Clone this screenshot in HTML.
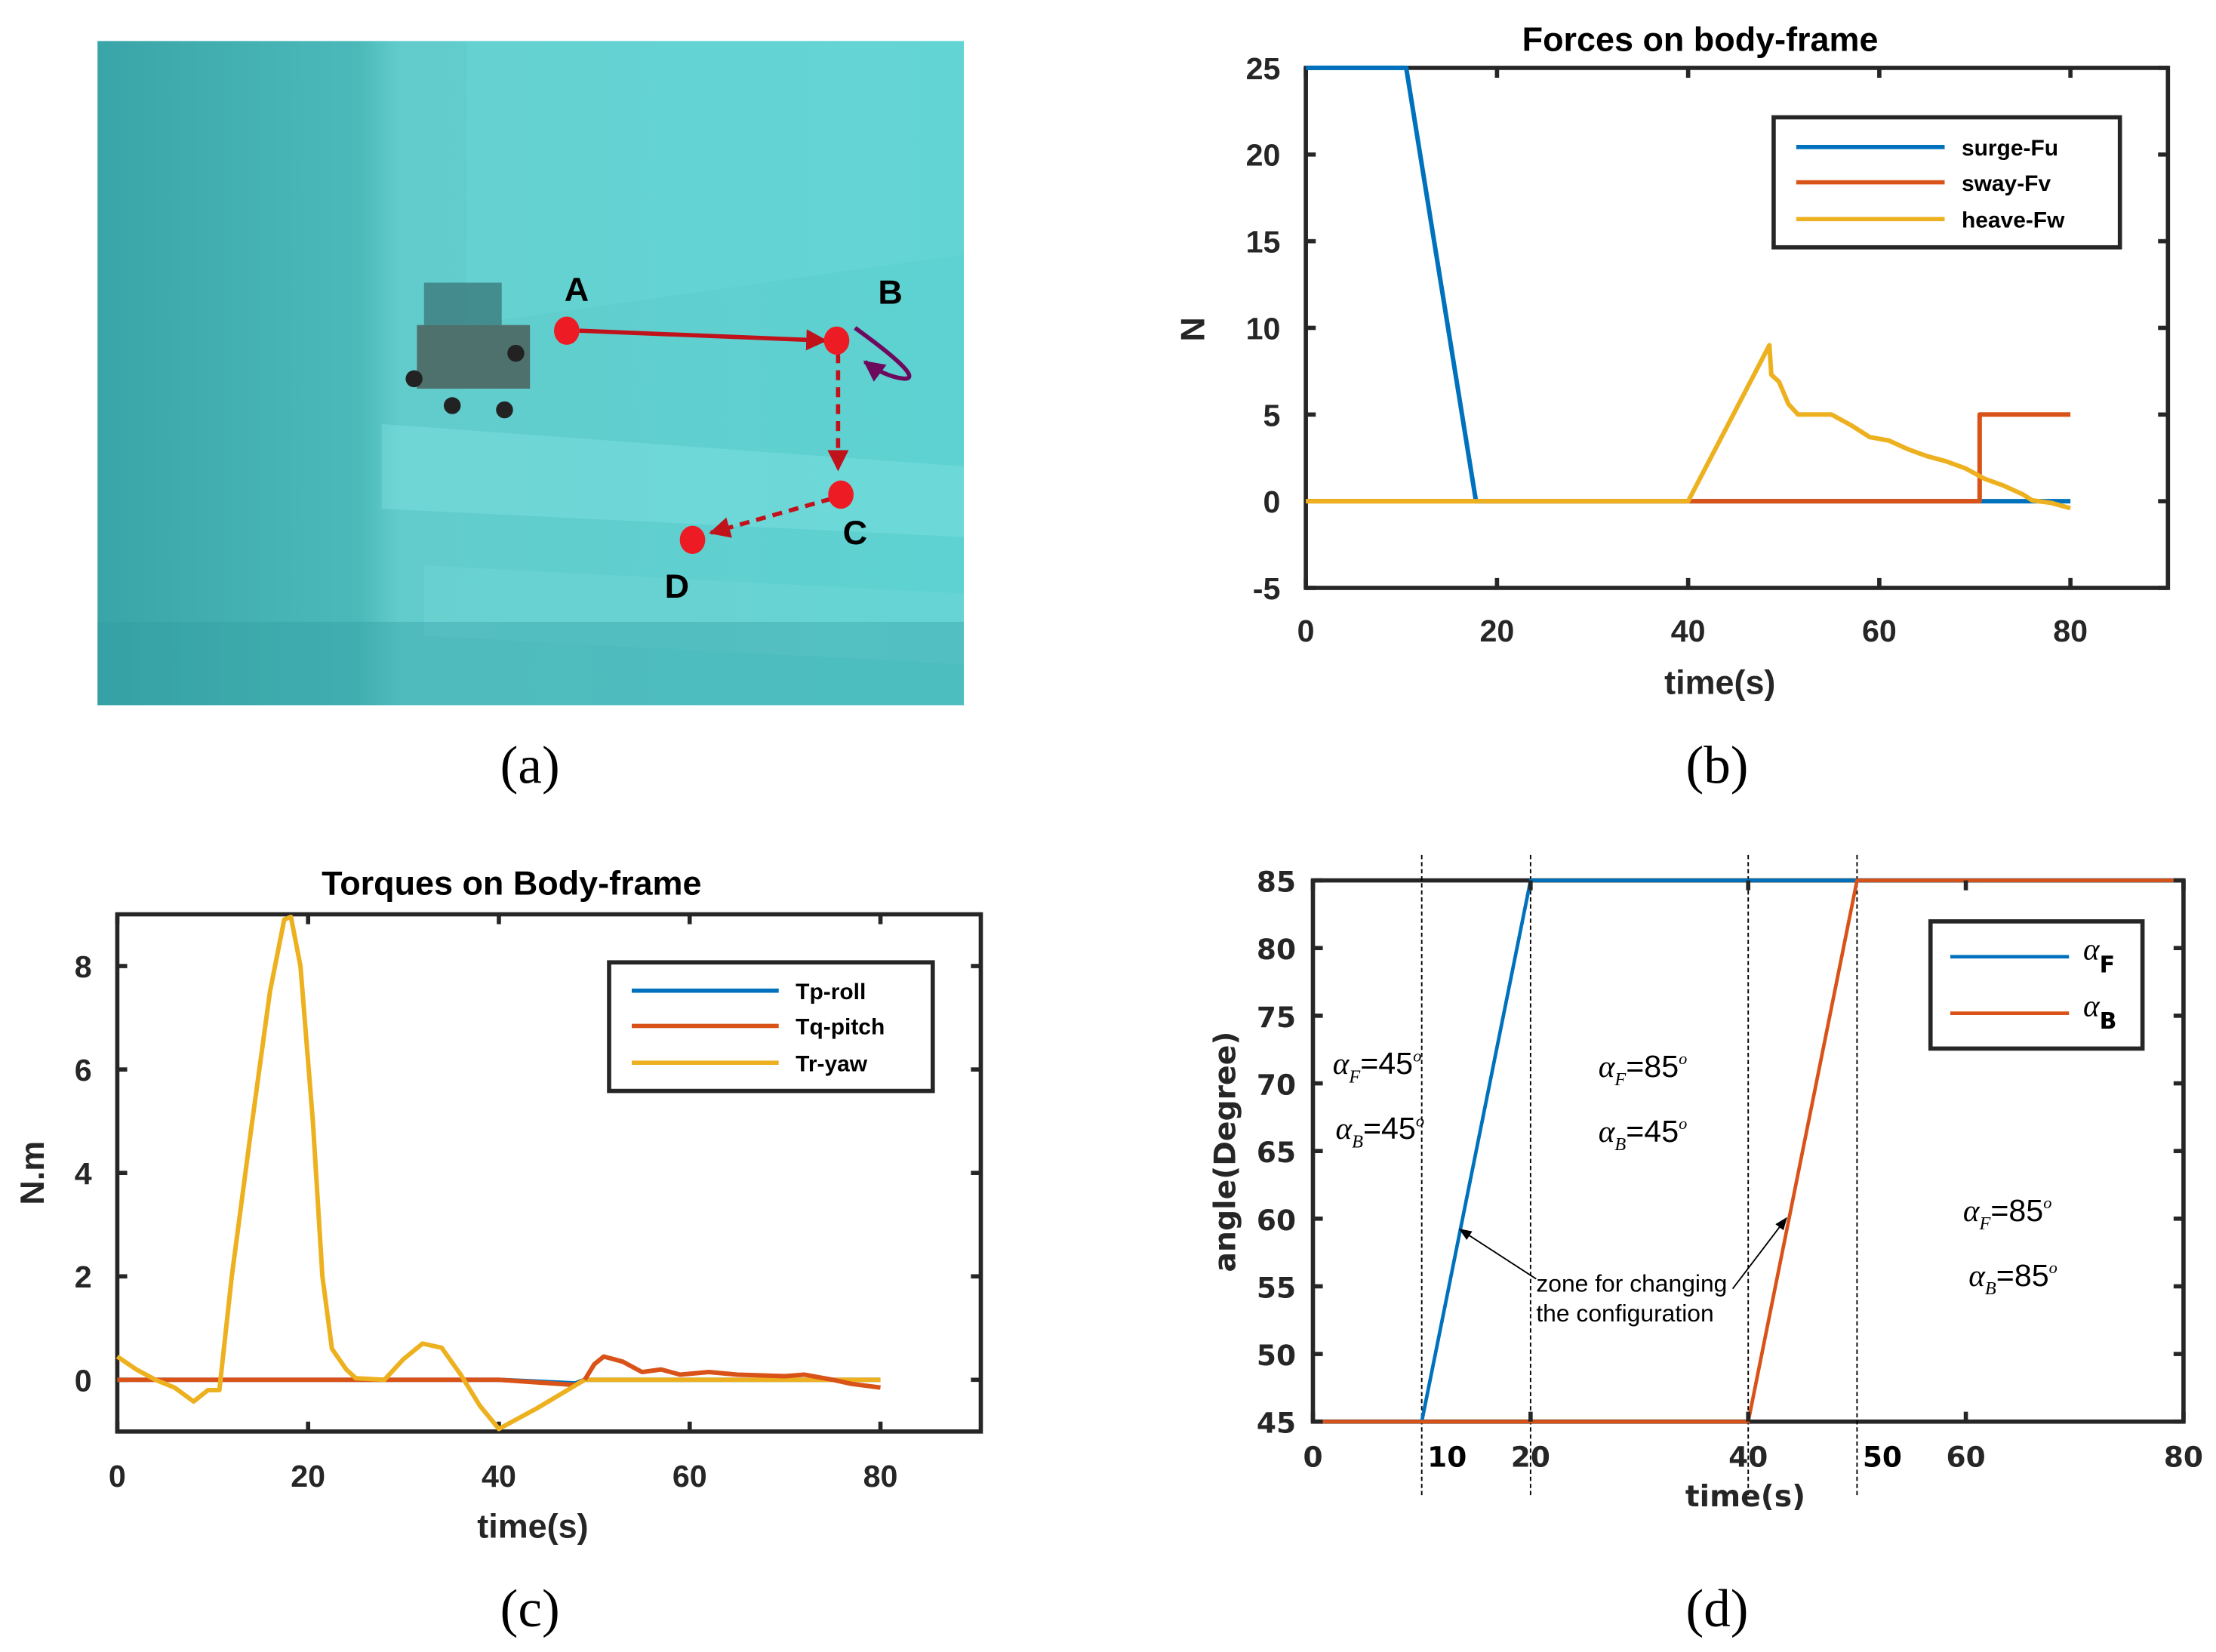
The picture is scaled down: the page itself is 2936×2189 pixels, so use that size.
<!DOCTYPE html>
<html><head><meta charset="utf-8">
<style>
html,body{margin:0;padding:0;background:#fff;}
svg{display:block;}
text{font-family:"Liberation Sans Narrow","Liberation Sans",sans-serif;fill:#262626;}
.tk{font-size:22px;font-weight:bold;}
.ttl{font-size:24px;font-weight:bold;fill:#000;}
.lg{font-size:16px;font-weight:bold;fill:#000;}
.cap{font-family:"Liberation Serif",serif;font-size:38px;fill:#000;}
</style></head>
<body>
<svg id="fig" width="2936" height="2189" viewBox="0 0 1568 1169" xmlns="http://www.w3.org/2000/svg">
<defs>
<linearGradient id="wall" x1="0" y1="0" x2="1" y2="0">
<stop offset="0" stop-color="#3aa5a8"/><stop offset="0.3" stop-color="#4bb9b9"/><stop offset="0.35" stop-color="#62cccc"/><stop offset="1" stop-color="#5ed2d2"/>
</linearGradient>
<marker id="arr" viewBox="0 0 10 10" refX="9" refY="5" markerWidth="5" markerHeight="5" orient="auto"><path d="M0,0L10,5L0,10z" fill="#c0121b"/></marker>
<marker id="arrp" viewBox="0 0 10 10" refX="9" refY="5" markerWidth="5" markerHeight="5" orient="auto"><path d="M0,0L10,5L0,10z" fill="#6e0a5e"/></marker>
<marker id="arrk" viewBox="0 0 10 10" refX="9" refY="5" markerWidth="9" markerHeight="9" orient="auto"><path d="M0,1L10,5L0,9z" fill="#000"/></marker>
</defs>

<g>
<rect x="69" y="29" width="613" height="470" fill="url(#wall)"/>
<path d="M330,29 L682,29 L682,180 L330,230z" fill="#6ad6d6" opacity="0.45"/>
<path d="M270,300 L682,330 L682,380 L270,360z" fill="#8ae4e4" opacity="0.35"/>
<path d="M300,400 L682,420 L682,470 L300,450z" fill="#7adcdc" opacity="0.3"/>
<rect x="69" y="440" width="613" height="59" fill="#2f9ca0" opacity="0.35"/>
<g>
<rect x="295" y="230" width="80" height="45" fill="#4a5a55" opacity="0.8"/>
<rect x="300" y="200" width="55" height="30" fill="#2f5f60" opacity="0.6"/>
<circle cx="293" cy="268" r="6" fill="#222"/><circle cx="357" cy="290" r="6" fill="#222"/>
<circle cx="320" cy="287" r="6" fill="#222"/><circle cx="365" cy="250" r="6" fill="#222"/>
</g>
<line x1="410" y1="234" x2="584" y2="241" stroke="#c0121b" stroke-width="3" marker-end="url(#arr)"/>
<line x1="593" y1="250" x2="593" y2="332" stroke="#c0121b" stroke-width="3" stroke-dasharray="7,5" marker-end="url(#arr)"/>
<line x1="588" y1="353" x2="503" y2="377" stroke="#c0121b" stroke-width="3" stroke-dasharray="7,5" marker-end="url(#arr)"/>
<path d="M605,232 C630,250 652,268 640,268 C630,267 620,262 612,256" fill="none" stroke="#6e0a5e" stroke-width="3" marker-end="url(#arrp)"/>
<ellipse cx="401" cy="234" rx="9" ry="10" fill="#ed1c24"/>
<ellipse cx="592" cy="241" rx="9" ry="10" fill="#ed1c24"/>
<ellipse cx="595" cy="350" rx="9" ry="10" fill="#ed1c24"/>
<ellipse cx="490" cy="382" rx="9" ry="10" fill="#ed1c24"/>
<text x="408" y="213" text-anchor="middle" style="font-family:'Liberation Sans';font-size:24px;font-weight:bold;fill:#000">A</text>
<text x="630" y="215" text-anchor="middle" style="font-family:'Liberation Sans';font-size:24px;font-weight:bold;fill:#000">B</text>
<text x="605" y="385" text-anchor="middle" style="font-family:'Liberation Sans';font-size:24px;font-weight:bold;fill:#000">C</text>
<text x="479" y="423" text-anchor="middle" style="font-family:'Liberation Sans';font-size:24px;font-weight:bold;fill:#000">D</text>
</g>
<text class="cap" x="375" y="554" text-anchor="middle">(a)</text>
<text class="cap" x="1215" y="554" text-anchor="middle">(b)</text>
<text class="cap" x="375" y="1151" text-anchor="middle">(c)</text>
<text class="cap" x="1215" y="1151" text-anchor="middle">(d)</text>

<g id="chartB"></g>
<g id="chartC"></g>
<g id="chartD"></g>
</svg>
<script>
const NS='http://www.w3.org/2000/svg';
const C_BLUE='#0072bd',C_RED='#d95319',C_YEL='#edb120';
// Chart B data
const bSurgeX=[0,10.5,17.8,80];
const bSurgeY=[25,25,0,0];
const bSwayX=[0,70.5,70.5,80];
const bSwayY=[0,0,5,5];
const bHeaveX=[0,40,48.5,48.7,49.5,50.5,51.5,53,55,57,59,61,63,65,67,69,71,73,75,76,78,80];
const bHeaveY=[0,0,9,7.3,6.9,5.6,5.0,5.0,5.0,4.4,3.7,3.5,3.0,2.6,2.3,1.9,1.3,0.9,0.4,0.05,-0.1,-0.4];
const bXTicks=[0,20,40,60,80];
const bYTicks=[-5,0,5,10,15,20,25];
// Chart C data
const cYawX=[0,2,4,6,8,9.5,10.7,12,14,16,17.5,18.2,19.2,20.5,21.5,22.5,24,25,28,30,32,34,36,38,40,44,49,80];
const cYawY=[0.45,0.2,0,-0.15,-0.42,-0.2,-0.2,2,4.8,7.5,8.9,8.95,8.0,5.0,2.0,0.6,0.2,0.03,0,0.4,0.7,0.62,0.1,-0.5,-0.95,-0.55,0,0];
const cPitchX=[0,40,44,48,49,50,51,53,55,57,59,62,65,70,72,75,77,80];
const cPitchY=[0,0,-0.05,-0.1,0,0.3,0.45,0.35,0.15,0.2,0.1,0.15,0.1,0.07,0.1,0,-0.08,-0.15];
const cRollX=[0,40,48,49,80];
const cRollY=[0,0,-0.07,0,0];
const cXTicks=[0,20,40,60,80];
const cYTicks=[0,2,4,6,8];
// Chart D data
const dFX=[0,10,20,80];
const dFY=[45,45,85,85];
const dBX=[0,40,50,80];
const dBY=[45,45,85,85];
const dXTicks=[0,10,20,40,50,60,80];
const dYTicks=[45,50,55,60,65,70,75,80,85];
const dZones=[10,20,40,50];

function el(tag,attrs,parent,txt){const e=document.createElementNS(NS,tag);for(const k in attrs)e.setAttribute(k,attrs[k]);if(txt!==undefined)e.textContent=txt;parent.appendChild(e);return e;}
function axes(o){
  const sx=v=>o.l+(v-o.x0)/(o.x1-o.x0)*(o.r-o.l);
  const sy=v=>o.b-(v-o.y0)/(o.y1-o.y0)*(o.b-o.t);
  return {sx,sy};
}
function line(g,xs,ys,sx,sy,color,name,w){
  const p=el('polyline',{points:xs.map((x,i)=>sx(x)+','+sy(ys[i])).join(' '),fill:'none',stroke:color,'stroke-width':w||3.2,'stroke-linejoin':'round'},g);
  
  
  return p;
}

// ---- Chart B ----
(function(){
const g=document.getElementById('chartB');
const o={l:924,r:1534,t:48,b:416,x0:0,x1:80*(1534-924)/(1465-924),y0:-5,y1:25};
const {sx,sy}=axes(o);
const t=el('text',{class:'ttl',x:1203,y:36,'text-anchor':'middle'},g,'Forces on body-frame');

const fr=el('rect',{x:o.l,y:o.t,width:o.r-o.l,height:o.b-o.t,fill:'none',stroke:'#262626','stroke-width':3},g);

bXTicks.forEach(v=>{el('line',{x1:sx(v),x2:sx(v),y1:o.b,y2:o.b-7,stroke:'#262626','stroke-width':3},g);el('line',{x1:sx(v),x2:sx(v),y1:o.t,y2:o.t+7,stroke:'#262626','stroke-width':3},g);
 const tl=el('text',{class:'tk',x:sx(v),y:o.b+38,'text-anchor':'middle'},g,v);});
bYTicks.forEach(v=>{el('line',{x1:o.l,x2:o.l+7,y1:sy(v),y2:sy(v),stroke:'#262626','stroke-width':3},g);el('line',{x1:o.r,x2:o.r-7,y1:sy(v),y2:sy(v),stroke:'#262626','stroke-width':3},g);
 const tl=el('text',{class:'tk',x:o.l-18,y:sy(v)+8,'text-anchor':'end'},g,v);});
line(g,bSurgeX,bSurgeY,sx,sy,C_BLUE,'surge-line');
line(g,bSwayX,bSwayY,sx,sy,C_RED,'sway-line');
line(g,bHeaveX,bHeaveY,sx,sy,C_YEL,'heave-line');
const xl=el('text',{class:'tk',x:1217,y:491,'text-anchor':'middle',style:'font-size:24px'},g,'time(s)');
const yl=el('text',{class:'tk',x:852,y:233,'text-anchor':'middle',transform:'rotate(-90 852 233)',style:'font-size:24px'},g,'N');
const lg=el('g',{},g);
el('rect',{x:1255,y:83,width:245,height:92,fill:'#fff',stroke:'#262626','stroke-width':3},lg);
[['surge-Fu',C_BLUE,104],['sway-Fv',C_RED,129],['heave-Fw',C_YEL,155]].forEach(a=>{el('line',{x1:1271,x2:1376,y1:a[2],y2:a[2],stroke:a[1],'stroke-width':3},lg);const e=el('text',{class:'lg',x:1388,y:a[2]+6},lg,a[0]);});
})();

// ---- Chart C ----
(function(){
const g=document.getElementById('chartC');
const o={l:83,r:694,t:647,b:1013,x0:0,x1:80*(694-83)/(623-83),y0:-1,y1:9};
const {sx,sy}=axes(o);
const t=el('text',{class:'ttl',x:362,y:633,'text-anchor':'middle'},g,'Torques on Body-frame');

const fr=el('rect',{x:o.l,y:o.t,width:o.r-o.l,height:o.b-o.t,fill:'none',stroke:'#262626','stroke-width':3},g);

cXTicks.forEach(v=>{el('line',{x1:sx(v),x2:sx(v),y1:o.b,y2:o.b-7,stroke:'#262626','stroke-width':3},g);el('line',{x1:sx(v),x2:sx(v),y1:o.t,y2:o.t+7,stroke:'#262626','stroke-width':3},g);
 const tl=el('text',{class:'tk',x:sx(v),y:o.b+39,'text-anchor':'middle'},g,v);});
cYTicks.forEach(v=>{el('line',{x1:o.l,x2:o.l+7,y1:sy(v),y2:sy(v),stroke:'#262626','stroke-width':3},g);el('line',{x1:o.r,x2:o.r-7,y1:sy(v),y2:sy(v),stroke:'#262626','stroke-width':3},g);
 const tl=el('text',{class:'tk',x:o.l-18,y:sy(v)+8,'text-anchor':'end'},g,v);});
line(g,cRollX,cRollY,sx,sy,C_BLUE,'roll-line');
const nEarly=cPitchX.filter(x=>x<=49).length;
line(g,cPitchX.slice(0,nEarly),cPitchY.slice(0,nEarly),sx,sy,C_RED,'pitch-line');
line(g,cYawX,cYawY,sx,sy,C_YEL,'yaw-line');
line(g,cPitchX.slice(nEarly-1),cPitchY.slice(nEarly-1),sx,sy,C_RED,'pitch-line-late');
const xl=el('text',{class:'tk',x:377,y:1088,'text-anchor':'middle',style:'font-size:24px'},g,'time(s)');
const yl=el('text',{class:'tk',x:31,y:830,'text-anchor':'middle',transform:'rotate(-90 31 830)',style:'font-size:24px'},g,'N.m');
const lg=el('g',{},g);
el('rect',{x:431,y:681,width:229,height:91,fill:'#fff',stroke:'#262626','stroke-width':3},lg);
[['Tp-roll',C_BLUE,701],['Tq-pitch',C_RED,726],['Tr-yaw',C_YEL,752]].forEach(a=>{el('line',{x1:447,x2:551,y1:a[2],y2:a[2],stroke:a[1],'stroke-width':3},lg);const e=el('text',{class:'lg',x:563,y:a[2]+6},lg,a[0]);});
})();

// ---- Chart D ----
(function(){
const g=document.getElementById('chartD');
const o={l:929,r:1545,t:623,b:1006,x0:0,x1:80,y0:45,y1:85};
const {sx,sy}=axes(o);
const fr=el('rect',{x:o.l,y:o.t,width:o.r-o.l,height:o.b-o.t,fill:'none',stroke:'#262626','stroke-width':3},g);

dZones.forEach(v=>{const z=el('line',{x1:sx(v),x2:sx(v),y1:605,y2:1058,stroke:'#000','stroke-width':1,'stroke-dasharray':'3,2'},g);});
line(g,dFX,dFY,sx,sy,C_BLUE,'alpha-f-line',2.5);
line(g,dBX,dBY,sx,sy,C_RED,'alpha-b-line',2.5);
dXTicks.forEach(v=>{const bold=(v===10||v===50);
 if(!bold){el('line',{x1:sx(v),x2:sx(v),y1:o.b,y2:o.b-7,stroke:'#262626','stroke-width':3},g);el('line',{x1:sx(v),x2:sx(v),y1:o.t,y2:o.t+7,stroke:'#262626','stroke-width':3},g);}
 const tl=el('text',{class:'tk',x:bold?sx(v)+4:sx(v),y:o.b+32,'text-anchor':bold?'start':'middle',style:'font-family:"DejaVu Sans",sans-serif;font-size:20px;'+(bold?'fill:#000':'')},g,v);
 });
dYTicks.forEach(v=>{el('line',{x1:o.l,x2:o.l+7,y1:sy(v),y2:sy(v),stroke:'#262626','stroke-width':3},g);el('line',{x1:o.r,x2:o.r-7,y1:sy(v),y2:sy(v),stroke:'#262626','stroke-width':3},g);
 const tl=el('text',{class:'tk',x:o.l-12,y:sy(v)+8,'text-anchor':'end',style:'font-family:"DejaVu Sans",sans-serif;font-size:20px'},g,v);});
const xl=el('text',{class:'tk',x:1235,y:1066,'text-anchor':'middle',style:'font-family:"DejaVu Sans",sans-serif;font-size:21px'},g,'time(s)');
const yl=el('text',{class:'tk',x:874,y:815,'text-anchor':'middle',transform:'rotate(-90 874 815)',style:'font-family:"DejaVu Sans",sans-serif;font-size:21px'},g,'angle(Degree)');
const lg=el('g',{},g);
el('rect',{x:1366,y:652,width:150,height:90,fill:'#fff',stroke:'#262626','stroke-width':3},lg);
[['F',C_BLUE,677],['B',C_RED,717]].forEach(a=>{el('line',{x1:1380,x2:1464,y1:a[2],y2:a[2],stroke:a[1],'stroke-width':2.5},lg);
 const e=el('text',{x:1474,y:a[2]+2,style:'font-family:"Liberation Serif",serif;font-style:italic;font-size:22px;fill:#000'},lg,'α');
 el('tspan',{dy:9,style:'font-family:"DejaVu Sans",sans-serif;font-weight:bold;font-style:normal;font-size:16px'},e,a[0]);
 });
const ann=[[943,760,'F','45'],[945,806,'B','45'],[1131,762,'F','85'],[1131,808,'B','45'],[1389,864,'F','85'],[1393,910,'B','85']];
ann.forEach(a=>{const e=el('text',{x:a[0],y:a[1],style:'font-family:"Liberation Serif",serif;font-style:italic;font-size:22px;fill:#000'},g,'α');
 el('tspan',{dy:6,style:'font-size:13px'},e,a[2]);
 el('tspan',{dy:-6,style:'font-family:"Liberation Sans Narrow","Liberation Sans",sans-serif;font-style:normal;font-size:22px'},e,'='+a[3]);
 el('tspan',{dy:-9,style:'font-size:12px'},e,'o');
 });
const a1=el('line',{x1:1087,y1:905,x2:1033,y2:870,stroke:'#000','stroke-width':1,'marker-end':'url(#arrk)'},g);
const a2=el('line',{x1:1226,y1:912,x2:1264,y2:862,stroke:'#000','stroke-width':1,'marker-end':'url(#arrk)'},g);
const at=el('text',{x:1087,y:914,style:'font-family:"Liberation Sans Narrow","Liberation Sans",sans-serif;font-size:17px;fill:#000'},g,'zone for changing');
const at2=el('text',{x:1087,y:935,style:'font-family:"Liberation Sans Narrow","Liberation Sans",sans-serif;font-size:17px;fill:#000'},g,'the configuration');
})();
</script>
</body></html>
